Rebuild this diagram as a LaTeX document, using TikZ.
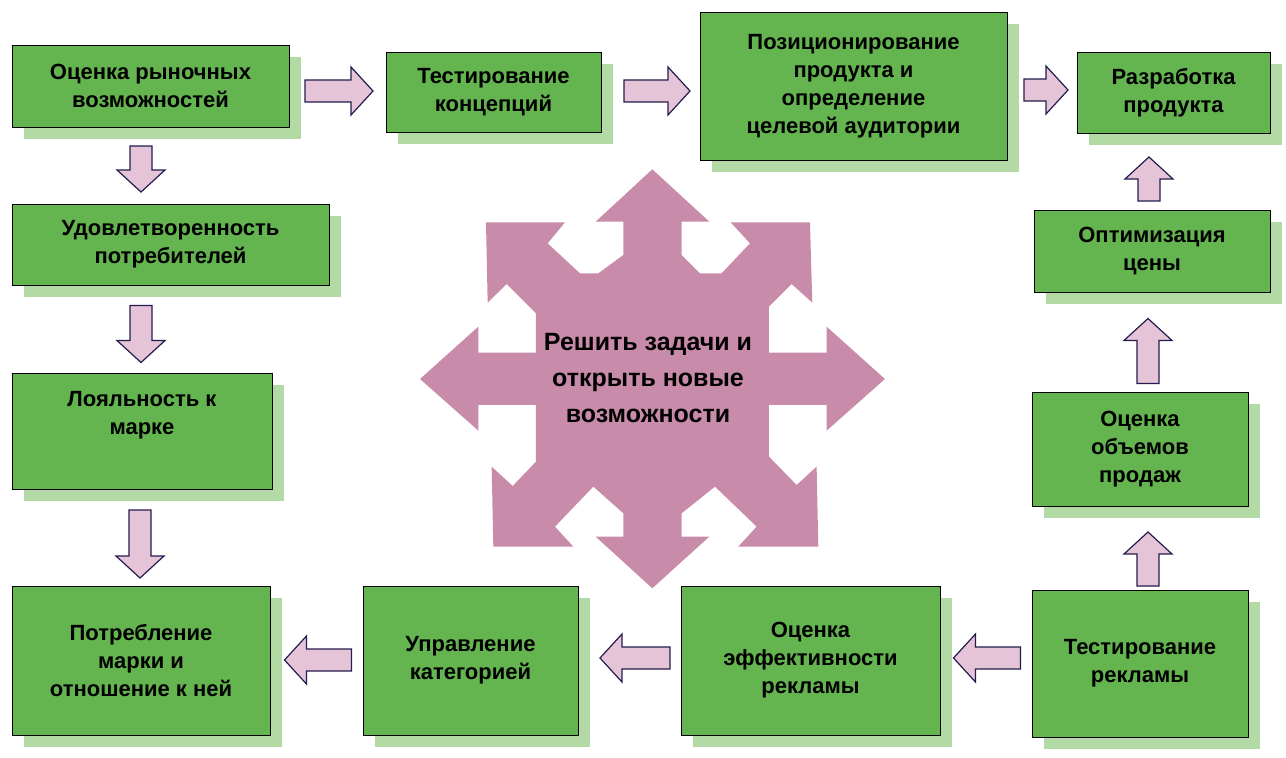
\documentclass[tikz,border=0pt]{standalone}
\usepackage{fontspec}
\setmainfont{Liberation Sans}
\definecolor{gbox}{HTML}{64B44F}
\definecolor{gshadow}{HTML}{B3DAA4}
\definecolor{afill}{HTML}{E6C4D7}
\definecolor{aline}{HTML}{231C4E}
\definecolor{star}{HTML}{C98BAA}
\tikzset{
  boxtext/.style={font=\fontsize{22}{28}\selectfont\bfseries, align=center, text=black},
  barrow/.style={fill=afill, draw=aline, line width=1.2pt, line join=miter},
  boxfill/.style={fill=gbox, draw=black, line width=0.8pt},
}
\newcommand\greenbox[6]{% name, x1,y1,x2,y2, text
  \fill[gshadow] (#2+12,#3+12) rectangle (#4+12,#5+12);
  \draw[boxfill] (#2,#3) rectangle (#4,#5);
  \node[boxtext] (#1) at ({(#2+#4)/2},{(#3+#5)/2}) {#6};
}
\newcommand\barr[5]{% name, cx, cy, rotation, length
  \begin{scope}[shift={(#2,#3)}, rotate=#4]
    \draw[barrow] (-#5/2,-11) -- (#5/2-22,-11) -- (#5/2-22,-24) -- (#5/2,0) -- (#5/2-22,24) -- (#5/2-22,11) -- (-#5/2,11) -- cycle;
    \coordinate (#1) at (0,0);
  \end{scope}
}
\begin{document}
\begin{tikzpicture}[x=1pt,y=-1pt]
\useasboundingbox (0,0) rectangle (1286,758);
% central star
\begin{scope}[shift={(410,160)}, x=0.3333pt, y=-0.3333pt]
\fill[star] (727,28) -- (898,185) -- (815,185) -- (815,285) -- (870,340) -- (935,340) -- (1020,250) -- (962,187) -- (1200,187) -- (1207,428) -- (1145,372) -- (1077,440) -- (1077,578) -- (1250,578) -- (1250,500) -- (1425,657) -- (1250,812) -- (1250,735) -- (1077,735) -- (1077,890) -- (1160,975) -- (1220,920) -- (1225,1160) -- (985,1160) -- (1040,1100) -- (915,980) -- (815,1060) -- (815,1130) -- (898,1130) -- (727,1285) -- (557,1130) -- (640,1130) -- (640,1060) -- (550,980) -- (435,1100) -- (490,1160) -- (250,1160) -- (245,920) -- (308,978) -- (378,905) -- (378,735) -- (205,735) -- (205,812) -- (30,657) -- (205,500) -- (205,578) -- (378,578) -- (378,460) -- (290,372) -- (233,428) -- (228,187) -- (465,187) -- (413,250) -- (510,340) -- (565,340) -- (640,285) -- (640,185) -- (557,185) -- cycle;
\end{scope}
\node[font=\fontsize{25}{36}\selectfont\bfseries, align=center] (center) at (648,378) {Решить задачи и\\открыть новые\\возможности};
% boxes
\greenbox{b1}{12}{45}{289}{127}{Оценка рыночных\\возможностей}
\greenbox{b2}{386}{52}{601}{132}{Тестирование\\концепций}
\greenbox{b3}{700}{12}{1007}{160}{Позиционирование\\продукта и\\определение\\целевой аудитории}
\greenbox{b4}{1077}{52}{1270}{133}{Разработка\\продукта}
\greenbox{b5}{1034}{210}{1270}{292}{Оптимизация\\цены}
\greenbox{b6}{1032}{392}{1248}{506}{Оценка\\объемов\\продаж}
\greenbox{b7}{1032}{590}{1248}{737}{Тестирование\\рекламы}
\greenbox{b8}{681}{586}{940}{735}{Оценка\\эффективности\\рекламы}
\greenbox{b9}{363}{586}{578}{735}{Управление\\категорией}
\greenbox{b10}{12}{586}{270}{735}{Потребление\\марки и\\отношение к ней}
\fill[gshadow] (24,385) rectangle (284,501);
\draw[boxfill] (12,373) rectangle (272,489);
\node[boxtext] (b11) at (142,415) {Лояльность к\\марке};
\greenbox{b12}{12}{204}{329}{285}{Удовлетворенность\\потребителей}
% arrows
\barr{a1}{339}{91}{0}{68}
\barr{a2}{657}{91}{0}{66}
\barr{a3}{1046}{90}{0}{44}
\barr{a4}{1149}{179}{90}{44}
\barr{a5}{1148}{351}{90}{65}
\barr{a6}{1148}{559}{90}{54}
\barr{a7}{987}{658}{180}{67}
\barr{a8}{635}{658}{180}{70}
\barr{a9}{318}{660}{180}{67}
\barr{a10}{140}{544}{-90}{68}
\barr{a11}{141}{334}{-90}{57}
\barr{a12}{141}{169}{-90}{46}
\end{tikzpicture}
\end{document}
